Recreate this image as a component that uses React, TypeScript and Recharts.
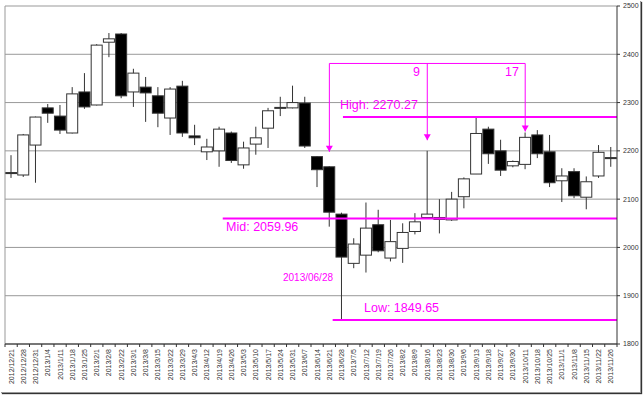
import React from 'react';
import { ComposedChart, Bar, XAxis, YAxis, CartesianGrid, ReferenceLine, ReferenceDot } from 'recharts';

const labels = [
  '2012/12/21', '2012/12/28', '2012/12/31', '2013/1/4', '2013/1/11', '2013/1/18', '2013/1/25', '2013/2/1',
  '2013/2/8', '2013/2/22', '2013/3/1', '2013/3/8', '2013/3/15', '2013/3/22', '2013/3/29', '2013/4/3',
  '2013/4/12', '2013/4/19', '2013/4/26', '2013/5/3', '2013/5/10', '2013/5/17', '2013/5/24', '2013/5/31',
  '2013/6/7', '2013/6/14', '2013/6/21', '2013/6/28', '2013/7/5', '2013/7/12', '2013/7/19', '2013/7/26',
  '2013/8/2', '2013/8/9', '2013/8/16', '2013/8/23', '2013/8/30', '2013/9/6', '2013/9/13', '2013/9/18',
  '2013/9/27', '2013/9/30', '2013/10/11', '2013/10/18', '2013/10/25', '2013/11/1', '2013/11/8', '2013/11/15',
  '2013/11/22', '2013/11/26',
];

const opens = [
  2155, 2150, 2212, 2289, 2272, 2237, 2322, 2295, 2425, 2442, 2322, 2332, 2314, 2268, 2334, 2231,
  2198, 2200, 2237, 2171, 2214, 2247, 2289, 2289, 2299, 2188, 2167, 2069, 1967, 1984, 2047, 1978,
  1998, 2033, 2062, 2058, 2057, 2105, 2152, 2245, 2200, 2169, 2172, 2233, 2198, 2138, 2157, 2104,
  2148, 2186,
];
const highs = [
  2191, 2235, 2271, 2297, 2295, 2332, 2361, 2421, 2444, 2444, 2370, 2353, 2332, 2332, 2345, 2254,
  2225, 2250, 2240, 2219, 2250, 2289, 2312, 2335, 2312, 2189, 2168, 2072, 2019, 2093, 2078, 2057,
  2050, 2071, 2200, 2100, 2115, 2145, 2270.27, 2250, 2223, 2180, 2238, 2243, 2233, 2164, 2164, 2147,
  2212, 2208,
];
const lows = [
  2144, 2146, 2134, 2258, 2235, 2236, 2287, 2294, 2394, 2309, 2291, 2260, 2249, 2233, 2229, 2212,
  2181, 2167, 2175, 2163, 2192, 2206, 2272, 2288, 2206, 2125, 2043, 1849.65, 1957, 1948, 1990, 1971,
  1968, 2027, 2062, 2029, 2055, 2081, 2152, 2173, 2148, 2166, 2162, 2185, 2125, 2094, 2102, 2079,
  2144, 2167,
];
const closes = [
  2153, 2233, 2270, 2278, 2243, 2318, 2291, 2419, 2432, 2314, 2361, 2320, 2278, 2328, 2237, 2227,
  2208, 2245, 2180, 2206, 2227, 2283, 2290, 2300, 2210, 2161, 2073, 1980, 2007, 2040, 1993, 2012,
  2031, 2053, 2069, 2062, 2100, 2142, 2236, 2194, 2160, 2178, 2228, 2194, 2134, 2148, 2107, 2136,
  2197, 2184,
];

const yTicks = [1800, 1900, 2000, 2100, 2200, 2300, 2400, 2500];

const highLevel = 2270.27;
const midLevel = 2059.96;
const lowLevel = 1849.65;
const bracketTop = 2381;
const bracketIdx = [26, 34, 42];
const arrowTips = [2198, 2222, 2240];
const countLabels = ['9', '17'];

const MAGENTA = '#ff00ff';
const FONT = '"Liberation Sans", Arial, sans-serif';

const data = labels.map((label, i) => ({
  label,
  idx: i,
  range: [lows[i], highs[i]],
  open: opens[i],
  close: closes[i],
  high: highs[i],
  low: lows[i],
}));

const Candle = (props: any) => {
  const { x, y, width, height, payload } = props;
  const { open, close, high, low } = payload;
  const h = Math.abs(height);
  const top0 = height < 0 ? y + height : y;
  const span = high - low;
  const toY = (v: number) => (span === 0 ? top0 : top0 + ((high - v) / span) * h);
  const cx = x + width / 2;
  const bTop = toY(Math.max(open, close));
  const bBot = toY(Math.min(open, close));
  const up = close >= open;
  return (
    <g>
      <line x1={cx} x2={cx} y1={top0} y2={top0 + h} stroke="#333" strokeWidth={1} />
      <rect
        x={x + 0.5}
        y={bTop}
        width={width - 1}
        height={Math.max(bBot - bTop, 1)}
        fill={up ? '#fff' : '#000'}
        stroke="#333"
        strokeWidth={1}
      />
    </g>
  );
};

const XTick = (props: any) => {
  const { x, y, payload, index } = props;
  const off = payload && payload.offset ? payload.offset : 0;
  const ty = y + 5;
  return (
    <g>
      <line x1={x - off} x2={x - off} y1={y} y2={y + 3} stroke="#333" />
      {index === labels.length - 1 && <line x1={x + off} x2={x + off} y1={y} y2={y + 3} stroke="#333" />}
      <text
        x={x}
        y={ty}
        transform={`rotate(-90, ${x}, ${ty})`}
        textAnchor="end"
        dy="0.35em"
        fontSize={7}
        fill="#333"
        fontFamily={FONT}
      >
        {payload.value}
      </text>
    </g>
  );
};

const Arrow = (p: any) => (
  <polygon points={`${p.cx - 3.5},${p.cy - 6} ${p.cx + 3.5},${p.cy - 6} ${p.cx},${p.cy}`} fill={MAGENTA} />
);

const textShape = (text: string, size: number) => (p: any) => (
  <text x={p.cx} y={p.cy} fontSize={size} fill={MAGENTA} fontFamily={FONT}>
    {text}
  </text>
);

export default function App() {
  return (
    <div
      style={{
        position: 'absolute',
        left: 0,
        top: 0,
        width: 640,
        height: 392,
        background: '#fff',
        boxShadow: '1px 1px 0 #999, 2px 2px 1px #333',
      }}
    >
      <ComposedChart
        width={640}
        height={392}
        data={data}
        margin={{ top: 6, right: 0, bottom: 2, left: 5 }}
        style={{ fontFamily: FONT }}
      >
        <CartesianGrid xAxisId="cat" vertical={false} stroke="#999" />
        <XAxis
          xAxisId="cat"
          dataKey="label"
          interval={0}
          height={46}
          tickSize={0}
          tickMargin={0}
          tickLine={false}
          axisLine={{ stroke: '#222' }}
          tick={<XTick />}
        />
        <XAxis xAxisId="num" type="number" dataKey="idx" domain={[-0.5, labels.length - 0.5]} allowDataOverflow hide />
        <YAxis
          orientation="right"
          domain={[1800, 2500]}
          ticks={yTicks}
          interval={0}
          width={23}
          tickSize={3}
          tickMargin={3}
          axisLine={{ stroke: '#333' }}
          tickLine={{ stroke: '#333' }}
          tick={{ fontSize: 7, fill: '#333', fontFamily: FONT }}
          allowDataOverflow
        />
        <ReferenceLine xAxisId="num" x={-0.5} stroke="#999" />
        <Bar xAxisId="cat" dataKey="range" barSize={12} shape={<Candle />} isAnimationActive={false} />

        <ReferenceLine xAxisId="num" stroke={MAGENTA} strokeWidth={2}
          segment={[{ x: 27.11, y: highLevel }, { x: labels.length - 0.5, y: highLevel }]} />
        <ReferenceLine xAxisId="num" stroke={MAGENTA} strokeWidth={2}
          segment={[{ x: 17.29, y: midLevel }, { x: labels.length - 0.5, y: midLevel }]} />
        <ReferenceLine xAxisId="num" stroke={MAGENTA} strokeWidth={2}
          segment={[{ x: 26.27, y: lowLevel }, { x: labels.length - 0.5, y: lowLevel }]} />

        <ReferenceLine xAxisId="num" stroke={MAGENTA} strokeWidth={1}
          segment={[{ x: bracketIdx[0], y: bracketTop }, { x: bracketIdx[2], y: bracketTop }]} />
        {bracketIdx.map((bx, i) => (
          <ReferenceLine key={'v' + i} xAxisId="num" stroke={MAGENTA} strokeWidth={1}
            segment={[{ x: bx, y: bracketTop }, { x: bx, y: arrowTips[i] }]} />
        ))}
        {bracketIdx.map((bx, i) => (
          <ReferenceDot key={'a' + i} xAxisId="num" x={bx} y={arrowTips[i]} shape={Arrow} />
        ))}

        <ReferenceDot xAxisId="num" x={32.83} y={2354} shape={textShape(countLabels[0], 12.5)} />
        <ReferenceDot xAxisId="num" x={40.35} y={2354} shape={textShape(countLabels[1], 12.5)} />
        <ReferenceDot xAxisId="num" x={26.87} y={2286} shape={textShape(`High: ${highLevel.toFixed(2)}`, 12.5)} />
        <ReferenceDot xAxisId="num" x={17.56} y={2033} shape={textShape(`Mid: ${midLevel.toFixed(2)}`, 12.5)} />
        <ReferenceDot xAxisId="num" x={28.83} y={1865.4} shape={textShape(`Low: ${lowLevel.toFixed(2)}`, 12.5)} />
        <ReferenceDot xAxisId="num" x={22.21} y={1929.6} shape={textShape('2013/06/28', 10)} />
      </ComposedChart>
    </div>
  );
}
